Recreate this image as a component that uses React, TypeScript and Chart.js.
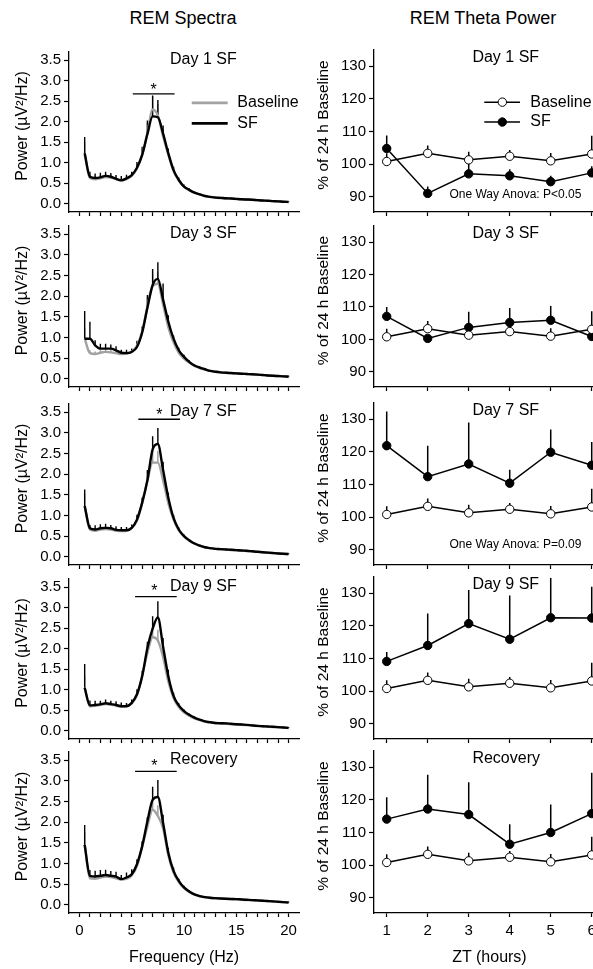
import React, { useEffect, useRef } from 'react';
import { Chart, registerables } from 'chart.js';

Chart.register(...registerables);

const FONT = '"Liberation Sans", Arial, Helvetica, sans-serif';

// ---------------- data: REM spectra ----------------
const FREQ_HZ = [0.5, 1, 1.5, 2, 2.5, 3, 3.5, 4, 4.5, 5, 5.5, 6, 6.5, 7, 7.5, 8, 8.5, 9, 9.5, 10,
  10.5, 11, 11.5, 12, 12.5, 13, 13.5, 14, 14.5, 15, 15.5, 16, 16.5, 17, 17.5, 18, 18.5, 19, 19.5, 20];
const FREQ_TICKS = [0, 1, 2, 3, 4, 5, 6, 7, 8, 9, 10, 11, 12, 13, 14, 15, 16, 17, 18, 19, 20];
const FREQ_TICK_LABELS = [0, 5, 10, 15, 20];
const POWER_TICKS = [0, 0.5, 1, 1.5, 2, 2.5, 3, 3.5];

const D1_SF = [1.23, 0.66, 0.63, 0.645, 0.68, 0.66, 0.61, 0.57, 0.62, 0.70, 0.88, 1.19, 1.70, 2.13, 2.11, 1.71, 1.23, 0.82, 0.58, 0.42,
  0.34, 0.27, 0.23, 0.19, 0.17, 0.15, 0.145, 0.135, 0.13, 0.12, 0.11, 0.105, 0.10, 0.09, 0.08, 0.075, 0.065, 0.06, 0.05, 0.045];
const D1_SF_ERR = [0.40, 0.12, 0.11, 0.11, 0.10, 0.09, 0.09, 0.11, 0.09, 0.08, 0.14, 0.20, 0.33, 0.51, 0.42, 0.20, 0.12, 0.08, 0.06, 0.05,
  0.04, 0.03, 0.03, 0.02, 0.02, 0.02, 0.02, 0.02, 0.02, 0.02, 0.02, 0.02, 0.02, 0.02, 0.02, 0.02, 0.02, 0.02, 0.02, 0.02];
const D1_BASE = [1.20, 0.63, 0.60, 0.62, 0.65, 0.64, 0.60, 0.57, 0.60, 0.68, 0.86, 1.20, 1.72, 2.30, 2.15, 1.65, 1.20, 0.80, 0.57, 0.42,
  0.33, 0.27, 0.23, 0.19, 0.17, 0.15, 0.14, 0.13, 0.125, 0.115, 0.11, 0.10, 0.095, 0.088, 0.08, 0.072, 0.065, 0.058, 0.05, 0.045];
const D1_BASE_ERR = [0.30, 0.08, 0.07, 0.07, 0.07, 0.07, 0.06, 0.06, 0.06, 0.06, 0.10, 0.15, 0.25, 0.32, 0.28, 0.15, 0.10, 0.06, 0.04, 0.03,
  0.03, 0.02, 0.02, 0.02, 0.02, 0.02, 0.02, 0.02, 0.02, 0.02, 0.02, 0.02, 0.02, 0.02, 0.02, 0.02, 0.02, 0.02, 0.02, 0.02];

const D3_SF = [0.97, 0.97, 0.81, 0.73, 0.73, 0.73, 0.69, 0.63, 0.62, 0.65, 0.77, 1.12, 1.72, 2.27, 2.42, 1.92, 1.38, 0.97, 0.69, 0.53,
  0.41, 0.32, 0.27, 0.23, 0.19, 0.17, 0.155, 0.146, 0.138, 0.13, 0.122, 0.115, 0.108, 0.10, 0.09, 0.08, 0.072, 0.065, 0.058, 0.05];
const D3_SF_ERR = [0.67, 0.41, 0.12, 0.12, 0.12, 0.10, 0.10, 0.07, 0.08, 0.08, 0.15, 0.14, 0.31, 0.39, 0.40, 0.39, 0.16, 0.08, 0.06, 0.05,
  0.04, 0.03, 0.03, 0.02, 0.02, 0.02, 0.02, 0.02, 0.02, 0.02, 0.02, 0.02, 0.02, 0.02, 0.02, 0.02, 0.02, 0.02, 0.02, 0.02];
const D3_BASE = [0.97, 0.62, 0.60, 0.63, 0.65, 0.64, 0.62, 0.60, 0.61, 0.66, 0.80, 1.15, 1.75, 2.25, 2.30, 1.80, 1.25, 0.88, 0.63, 0.49,
  0.39, 0.31, 0.26, 0.22, 0.19, 0.17, 0.155, 0.145, 0.137, 0.13, 0.122, 0.115, 0.108, 0.10, 0.09, 0.08, 0.072, 0.065, 0.058, 0.05];
const D3_BASE_ERR = [0.25, 0.07, 0.06, 0.06, 0.06, 0.06, 0.06, 0.05, 0.05, 0.06, 0.08, 0.12, 0.22, 0.30, 0.28, 0.18, 0.10, 0.06, 0.04, 0.03,
  0.03, 0.02, 0.02, 0.02, 0.02, 0.02, 0.02, 0.02, 0.02, 0.02, 0.02, 0.02, 0.02, 0.02, 0.02, 0.02, 0.02, 0.02, 0.02, 0.02];

const D7_SF = [1.23, 0.69, 0.66, 0.69, 0.70, 0.69, 0.65, 0.64, 0.64, 0.70, 0.90, 1.31, 1.85, 2.60, 2.73, 2.10, 1.43, 0.94, 0.66, 0.50,
  0.40, 0.32, 0.27, 0.23, 0.21, 0.19, 0.185, 0.177, 0.168, 0.16, 0.152, 0.145, 0.133, 0.12, 0.11, 0.10, 0.09, 0.08, 0.072, 0.065];
const D7_SF_ERR = [0.40, 0.08, 0.10, 0.10, 0.10, 0.08, 0.09, 0.08, 0.08, 0.08, 0.12, 0.12, 0.25, 0.32, 0.39, 0.20, 0.12, 0.08, 0.05, 0.04,
  0.03, 0.03, 0.02, 0.02, 0.02, 0.02, 0.02, 0.02, 0.02, 0.02, 0.02, 0.02, 0.02, 0.02, 0.02, 0.02, 0.02, 0.02, 0.02, 0.02];
const D7_BASE = [1.22, 0.66, 0.63, 0.66, 0.67, 0.66, 0.63, 0.62, 0.63, 0.70, 0.88, 1.30, 1.85, 2.28, 2.28, 1.85, 1.30, 0.90, 0.64, 0.49,
  0.39, 0.32, 0.27, 0.23, 0.21, 0.19, 0.18, 0.172, 0.164, 0.156, 0.148, 0.14, 0.13, 0.118, 0.108, 0.098, 0.088, 0.078, 0.07, 0.063];
const D7_BASE_ERR = [0.30, 0.07, 0.06, 0.06, 0.06, 0.06, 0.06, 0.05, 0.05, 0.06, 0.09, 0.12, 0.22, 0.30, 0.28, 0.18, 0.10, 0.06, 0.04, 0.03,
  0.03, 0.02, 0.02, 0.02, 0.02, 0.02, 0.02, 0.02, 0.02, 0.02, 0.02, 0.02, 0.02, 0.02, 0.02, 0.02, 0.02, 0.02, 0.02, 0.02];

const D9_SF = [1.05, 0.62, 0.63, 0.645, 0.67, 0.65, 0.63, 0.60, 0.60, 0.68, 0.89, 1.33, 2.02, 2.49, 2.76, 2.05, 1.33, 0.85, 0.62, 0.48,
  0.39, 0.32, 0.27, 0.23, 0.21, 0.19, 0.185, 0.18, 0.17, 0.16, 0.152, 0.145, 0.132, 0.12, 0.112, 0.105, 0.098, 0.09, 0.08, 0.07];
const D9_SF_ERR = [0.58, 0.12, 0.10, 0.09, 0.09, 0.08, 0.09, 0.09, 0.08, 0.08, 0.12, 0.12, 0.15, 0.30, 0.40, 0.21, 0.16, 0.08, 0.05, 0.04,
  0.03, 0.03, 0.02, 0.02, 0.02, 0.02, 0.02, 0.02, 0.02, 0.02, 0.02, 0.02, 0.02, 0.02, 0.02, 0.02, 0.02, 0.02, 0.02, 0.02];
const D9_BASE = [1.05, 0.60, 0.61, 0.63, 0.65, 0.64, 0.61, 0.59, 0.60, 0.67, 0.87, 1.35, 1.90, 2.28, 2.20, 1.80, 1.20, 0.80, 0.58, 0.45,
  0.37, 0.30, 0.26, 0.22, 0.20, 0.185, 0.175, 0.168, 0.16, 0.152, 0.145, 0.138, 0.128, 0.118, 0.108, 0.10, 0.092, 0.085, 0.076, 0.068];
const D9_BASE_ERR = [0.30, 0.07, 0.06, 0.06, 0.06, 0.06, 0.06, 0.05, 0.05, 0.06, 0.09, 0.12, 0.22, 0.28, 0.26, 0.16, 0.10, 0.06, 0.04, 0.03,
  0.03, 0.02, 0.02, 0.02, 0.02, 0.02, 0.02, 0.02, 0.02, 0.02, 0.02, 0.02, 0.02, 0.02, 0.02, 0.02, 0.02, 0.02, 0.02, 0.02];

const REC_SF = [1.45, 0.70, 0.685, 0.70, 0.72, 0.70, 0.68, 0.62, 0.66, 0.74, 0.98, 1.42, 2.02, 2.54, 2.61, 1.98, 1.26, 0.82, 0.58, 0.42,
  0.32, 0.25, 0.21, 0.185, 0.17, 0.16, 0.152, 0.145, 0.14, 0.137, 0.128, 0.12, 0.112, 0.105, 0.098, 0.09, 0.082, 0.073, 0.064, 0.056];
const REC_SF_ERR = [0.48, 0.14, 0.14, 0.14, 0.13, 0.12, 0.12, 0.10, 0.12, 0.12, 0.12, 0.12, 0.10, 0.32, 0.41, 0.20, 0.12, 0.08, 0.05, 0.04,
  0.03, 0.03, 0.02, 0.02, 0.02, 0.02, 0.02, 0.02, 0.02, 0.02, 0.02, 0.02, 0.02, 0.02, 0.02, 0.02, 0.02, 0.02, 0.02, 0.02];
const REC_BASE = [1.45, 0.64, 0.63, 0.66, 0.68, 0.67, 0.64, 0.61, 0.63, 0.71, 0.94, 1.40, 1.90, 2.30, 2.15, 1.85, 1.20, 0.78, 0.55, 0.40,
  0.31, 0.245, 0.205, 0.18, 0.165, 0.155, 0.148, 0.142, 0.136, 0.13, 0.123, 0.116, 0.108, 0.10, 0.093, 0.086, 0.078, 0.07, 0.062, 0.055];
const REC_BASE_ERR = [0.30, 0.07, 0.06, 0.06, 0.06, 0.06, 0.06, 0.05, 0.05, 0.06, 0.09, 0.12, 0.22, 0.30, 0.26, 0.16, 0.10, 0.06, 0.04, 0.03,
  0.03, 0.02, 0.02, 0.02, 0.02, 0.02, 0.02, 0.02, 0.02, 0.02, 0.02, 0.02, 0.02, 0.02, 0.02, 0.02, 0.02, 0.02, 0.02, 0.02];

// ---------------- data: REM theta power ----------------
const ZT_HOURS = [1, 2, 3, 4, 5, 6];
const PCT_TICKS = [90, 100, 110, 120, 130];
const THETA_BASE = [100.8, 103.3, 101.3, 102.4, 101.0, 103.1];
const THETA_BASE_ERR = [2.5, 2.4, 2.5, 1.9, 2.4, 5.6];
const D1_THETA = [104.8, 91.0, 97.0, 96.4, 94.6, 97.3];
const D1_THETA_ERR = [4.0, 2.1, 3.8, 2.0, 1.8, 2.0];
const D3_THETA = [107.1, 100.3, 103.7, 105.2, 105.9, 100.9];
const D3_THETA_ERR = [2.9, 0.8, 4.8, 4.5, 4.4, 1.5];
const D7_THETA = [121.9, 112.4, 116.3, 110.4, 119.9, 115.9];
const D7_THETA_ERR = [10.5, 9.5, 12.7, 4.1, 7.0, 7.1];
const D9_THETA = [109.1, 114.0, 120.7, 115.9, 122.5, 122.4];
const D9_THETA_ERR = [2.9, 9.8, 10.3, 13.4, 12.2, 9.6];
const REC_THETA = [114.1, 117.2, 115.5, 106.4, 110.0, 115.8];
const REC_THETA_ERR = [6.7, 10.5, 9.9, 6.1, 8.6, 12.5];

const PANEL_TITLES = ['Day 1 SF', 'Day 3 SF', 'Day 7 SF', 'Day 9 SF', 'Recovery'];

// significance bars (frequency range, power level) for spectra panels
const SIG_BARS: ({ from: number; to: number; level: number; starX: number; starY: number } | null)[] = [
  { from: 5.1, to: 9.1, level: 2.68, starX: 7.1, starY: 2.85 },
  null,
  { from: 5.63, to: 9.62, level: 3.33, starX: 7.64, starY: 3.52 },
  { from: 5.32, to: 9.3, level: 3.27, starX: 7.16, starY: 3.5 },
  { from: 5.32, to: 9.3, level: 3.23, starX: 7.16, starY: 3.45 },
];
const ANOVA_NOTES = ['One Way Anova: P<0.05', '', 'One Way Anova: P=0.09', '', ''];
const ANOVA_Y = [90.5, 0, 91.4, 0, 0];

const SPECTRA = [
  { base: D1_BASE, baseErr: D1_BASE_ERR, sf: D1_SF, sfErr: D1_SF_ERR },
  { base: D3_BASE, baseErr: D3_BASE_ERR, sf: D3_SF, sfErr: D3_SF_ERR },
  { base: D7_BASE, baseErr: D7_BASE_ERR, sf: D7_SF, sfErr: D7_SF_ERR },
  { base: D9_BASE, baseErr: D9_BASE_ERR, sf: D9_SF, sfErr: D9_SF_ERR },
  { base: REC_BASE, baseErr: REC_BASE_ERR, sf: REC_SF, sfErr: REC_SF_ERR },
];
const THETA = [
  { sf: D1_THETA, sfErr: D1_THETA_ERR },
  { sf: D3_THETA, sfErr: D3_THETA_ERR },
  { sf: D7_THETA, sfErr: D7_THETA_ERR },
  { sf: D9_THETA, sfErr: D9_THETA_ERR },
  { sf: REC_THETA, sfErr: REC_THETA_ERR },
];

// ---------------- layout ----------------
const LEFT_AREA = [[52, 212], [226, 387], [404, 565], [579, 739], [752, 913]];
const RIGHT_AREA = [[50, 212], [226, 387], [403, 565], [577, 739], [751, 913]];
const PAD_TOP = 14;
const XH = 8;
const XH_LAST = 32;
const GREY = '#a2a2a2';

function overlayPlugin(cfg: any) {
  return {
    id: 'overlay',
    beforeDatasetsDraw(chart: any) {
      const { ctx } = chart;
      const xs = chart.scales.x;
      const ys = chart.scales.y;
      ctx.save();
      const dss = chart.data.datasets;
      for (let d = dss.length - 1; d >= 0; d--) {
        const ds = dss[d];
        if (!ds.errUp) continue;
        ctx.strokeStyle = ds.errColor;
        ctx.lineWidth = ds.errWidth;
        ctx.beginPath();
        ds.data.forEach((pt: any, i: number) => {
          const x = xs.getPixelForValue(pt.x);
          ctx.moveTo(x, ys.getPixelForValue(pt.y));
          ctx.lineTo(x, ys.getPixelForValue(pt.y + ds.errUp[i]));
        });
        ctx.stroke();
      }
      ctx.restore();
    },
    afterDraw(chart: any) {
      const { ctx, chartArea } = chart;
      const xs = chart.scales.x;
      const ys = chart.scales.y;
      ctx.save();
      ctx.fillStyle = '#000';
      ctx.font = `${cfg.yTitleSize}px ${FONT}`;
      ctx.textAlign = 'center';
      ctx.textBaseline = 'middle';
      ctx.translate(cfg.yTitleX, (chartArea.top + chartArea.bottom) / 2 - 6);
      ctx.rotate(-Math.PI / 2);
      ctx.fillText(cfg.yTitle, 0, 0);
      ctx.restore();

      ctx.save();
      for (const l of cfg.lines || []) {
        ctx.strokeStyle = l.color;
        ctx.lineWidth = l.width;
        ctx.beginPath();
        ctx.moveTo(xs.getPixelForValue(l.x1), ys.getPixelForValue(l.y));
        ctx.lineTo(xs.getPixelForValue(l.x2), ys.getPixelForValue(l.y));
        ctx.stroke();
      }
      for (const m of cfg.markers || []) {
        ctx.beginPath();
        ctx.arc(xs.getPixelForValue(m.x), ys.getPixelForValue(m.y), 4.2, 0, Math.PI * 2);
        ctx.fillStyle = m.fill;
        ctx.fill();
        ctx.lineWidth = 1;
        ctx.strokeStyle = '#000';
        ctx.stroke();
      }
      for (const t of cfg.texts || []) {
        ctx.fillStyle = '#000';
        ctx.font = `${t.size}px ${FONT}`;
        ctx.textAlign = t.align || 'left';
        ctx.textBaseline = 'middle';
        ctx.fillText(t.text, xs.getPixelForValue(t.x), ys.getPixelForValue(t.y) + (t.dy || 0));
      }
      ctx.restore();
    },
  };
}

function axisCommon(width: number | null, height: number | null) {
  return {
    grid: { drawOnChartArea: false, drawTicks: true, tickColor: '#000', tickWidth: 1.2 },
    border: { display: true, color: '#000', width: 1.3 },
    afterFit: (s: any) => {
      if (width !== null) s.width = width;
      if (height !== null) s.height = height;
      s.paddingLeft = 0;
      s.paddingRight = 0;
      s.paddingTop = 0;
      s.paddingBottom = 0;
    },
  };
}

function spectraConfig(i: number, canvasTop: number, canvasH: number) {
  const p = SPECTRA[i];
  const last = i === SPECTRA.length - 1;
  const [aTop, aBot] = LEFT_AREA[i];
  const xh = canvasH - (aBot - canvasTop);
  const texts: any[] = [{ text: PANEL_TITLES[i], x: 8.66, y: 3.52, size: 16 }];
  const lines: any[] = [];
  const sig = SIG_BARS[i];
  if (sig) {
    lines.push({ x1: sig.from, x2: sig.to, y: sig.level, color: '#000', width: 1.3 });
    texts.push({ text: '*', x: sig.starX, y: sig.starY, size: 16, align: 'center', dy: 4 });
  }
  if (i === 0) {
    lines.push({ x1: 10.74, x2: 14.18, y: 2.46, color: GREY, width: 2.6 });
    lines.push({ x1: 10.74, x2: 14.18, y: 1.96, color: '#000', width: 2.6 });
    texts.push({ text: 'Baseline', x: 15.1, y: 2.46, size: 16 });
    texts.push({ text: 'SF', x: 15.1, y: 1.96, size: 16 });
  }
  const xc = axisCommon(null, xh);
  const yc = axisCommon(69, null);
  return {
    type: 'line',
    data: {
      datasets: [
        {
          label: 'SF', data: FREQ_HZ.map((f, k) => ({ x: f, y: p.sf[k] })), errUp: p.sfErr, errColor: '#000', errWidth: 1.4,
          borderColor: '#000', borderWidth: 2.4, pointRadius: 0, cubicInterpolationMode: 'monotone', fill: false,
        },
        {
          label: 'Baseline', data: FREQ_HZ.map((f, k) => ({ x: f, y: p.base[k] })), errUp: p.baseErr, errColor: '#9a9a9a', errWidth: 1.4,
          borderColor: GREY, borderWidth: 2.4, pointRadius: 0, cubicInterpolationMode: 'monotone', fill: false,
        },
      ],
    },
    options: {
      animation: false, responsive: false, events: [],
      layout: { padding: { top: aTop - canvasTop, right: 1, left: 0, bottom: 0 } },
      plugins: { legend: { display: false }, tooltip: { enabled: false } },
      scales: {
        x: {
          type: 'linear', min: -1, max: 21,
          afterBuildTicks: (s: any) => { s.ticks = FREQ_TICKS.map((v) => ({ value: v })); },
          ticks: {
            autoSkip: false, maxRotation: 0, color: '#000', padding: 5, font: { family: FONT, size: 15 },
            callback: (v: any) => (last && FREQ_TICK_LABELS.includes(v) ? String(v) : ''),
          },
          ...xc, grid: { ...xc.grid, tickLength: 4 },
        },
        y: {
          type: 'linear', min: -0.2, max: 3.7,
          afterBuildTicks: (s: any) => { s.ticks = POWER_TICKS.map((v) => ({ value: v })); },
          ticks: { color: '#000', padding: 3, font: { family: FONT, size: 15 }, callback: (v: any) => Number(v).toFixed(1) },
          ...yc, grid: { ...yc.grid, tickLength: 5 },
        },
      },
    },
    plugins: [overlayPlugin({ yTitle: 'Power (µV²/Hz)', yTitleX: 22.5, yTitleSize: 16, texts, lines })],
  };
}

function thetaConfig(i: number, canvasTop: number, canvasH: number) {
  const p = THETA[i];
  const last = i === THETA.length - 1;
  const [aTop, aBot] = RIGHT_AREA[i];
  const xh = canvasH - (aBot - canvasTop);
  const texts: any[] = [{ text: PANEL_TITLES[i], x: 3.09, y: 132.6, size: 16 }];
  const lines: any[] = [];
  const markers: any[] = [];
  if (ANOVA_NOTES[i]) texts.push({ text: ANOVA_NOTES[i], x: 2.53, y: ANOVA_Y[i], size: 12 });
  if (i === 0) {
    lines.push({ x1: 3.38, x2: 4.25, y: 119, color: '#000', width: 1.5 });
    lines.push({ x1: 3.38, x2: 4.25, y: 112.9, color: '#000', width: 1.5 });
    markers.push({ x: 3.82, y: 119, fill: '#fff' });
    markers.push({ x: 3.82, y: 112.9, fill: '#000' });
    texts.push({ text: 'Baseline', x: 4.5, y: 119, size: 16 });
    texts.push({ text: 'SF', x: 4.5, y: 112.9, size: 16 });
  }
  const xc = axisCommon(null, xh);
  const yc = axisCommon(74, null);
  return {
    type: 'line',
    data: {
      datasets: [
        {
          label: 'Baseline', data: ZT_HOURS.map((h, k) => ({ x: h, y: THETA_BASE[k] })), errUp: THETA_BASE_ERR, errColor: '#000', errWidth: 1.5,
          borderColor: '#000', borderWidth: 1.5, pointRadius: 4.2, pointBackgroundColor: '#fff', pointBorderColor: '#000', pointBorderWidth: 1,
          tension: 0, fill: false,
        },
        {
          label: 'SF', data: ZT_HOURS.map((h, k) => ({ x: h, y: p.sf[k] })), errUp: p.sfErr, errColor: '#000', errWidth: 1.5,
          borderColor: '#000', borderWidth: 1.5, pointRadius: 4.2, pointBackgroundColor: '#000', pointBorderColor: '#000', pointBorderWidth: 1,
          tension: 0, fill: false,
        },
      ],
    },
    options: {
      animation: false, responsive: false, events: [],
      layout: { padding: { top: aTop - canvasTop, right: 12, left: 0, bottom: 0 } },
      plugins: { legend: { display: false }, tooltip: { enabled: false } },
      scales: {
        x: {
          type: 'linear', min: 0.69, max: 6.397,
          afterBuildTicks: (s: any) => { s.ticks = ZT_HOURS.map((v) => ({ value: v })); },
          ticks: {
            autoSkip: false, maxRotation: 0, color: '#000', padding: 5, font: { family: FONT, size: 15 },
            callback: (v: any) => (last ? String(v) : ''),
          },
          ...xc, grid: { ...xc.grid, tickLength: 4 },
        },
        y: {
          type: 'linear', min: 85.3, max: 135,
          afterBuildTicks: (s: any) => { s.ticks = PCT_TICKS.map((v) => ({ value: v })); },
          ticks: { color: '#000', padding: 3, font: { family: FONT, size: 15 }, callback: (v: any) => String(v) },
          ...yc, grid: { ...yc.grid, tickLength: 5 },
        },
      },
    },
    plugins: [overlayPlugin({ yTitle: '% of 24 h Baseline', yTitleX: 24, yTitleSize: 15.5, texts, lines, markers })],
  };
}

function ChartBox({ left, top, width, height, make }: any) {
  const ref = useRef<HTMLCanvasElement>(null);
  useEffect(() => {
    const chart = new Chart(ref.current as HTMLCanvasElement, make() as any);
    return () => chart.destroy();
  }, []);
  return (
    <canvas
      ref={ref}
      width={width}
      height={height}
      style={{ position: 'absolute', left, top, width, height, display: 'block' }}
    />
  );
}

function Label({ text, cx, cy, size }: { text: string; cx: number; cy: number; size: number }) {
  return (
    <div
      style={{
        position: 'absolute', left: cx, top: cy, transform: 'translate(-50%, -50%)', whiteSpace: 'nowrap',
        fontFamily: FONT, fontSize: size, lineHeight: 1, color: '#000',
      }}
    >
      {text}
    </div>
  );
}

export default function App() {
  const boxes: any[] = [];
  for (let i = 0; i < 5; i++) {
    const last = i === 4;
    const [lt, lb] = LEFT_AREA[i];
    const lTop = lt - PAD_TOP;
    const lH = lb - lTop + (last ? XH_LAST : XH);
    boxes.push(<ChartBox key={'l' + i} left={0} top={lTop} width={300} height={lH} make={() => spectraConfig(i, lTop, lH)} />);
    const [rt, rb] = RIGHT_AREA[i];
    const rTop = rt - PAD_TOP;
    const rH = rb - rTop + (last ? XH_LAST : XH);
    boxes.push(<ChartBox key={'r' + i} left={300} top={rTop} width={320} height={rH} make={() => thetaConfig(i, rTop, rH)} />);
  }
  return (
    <div style={{ position: 'absolute', left: 0, top: 0, width: 593, height: 969, overflow: 'hidden', background: '#fff' }}>
      <Label text="REM Spectra" cx={183} cy={18} size={18} />
      <Label text="REM Theta Power" cx={483} cy={18} size={18} />
      {boxes}
      <Label text="Frequency (Hz)" cx={184} cy={957} size={16} />
      <Label text="ZT (hours)" cx={489.5} cy={957} size={16} />
    </div>
  );
}
